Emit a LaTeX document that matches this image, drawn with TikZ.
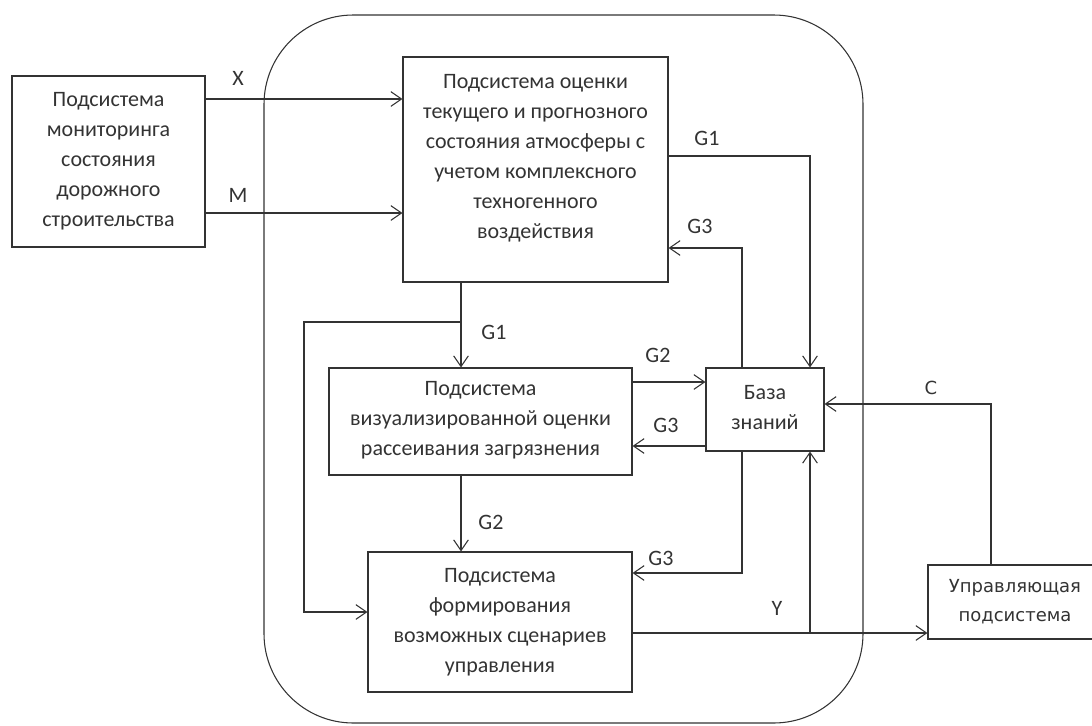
\documentclass[tikz,border=0pt]{standalone}
\usepackage{fontspec}
\setmainfont{Carlito}
\newfontfamily\ctrlfont{DejaVu Sans}
\usetikzlibrary{arrows.meta,calc}
\definecolor{ink}{HTML}{333333}
\tikzset{
  box/.style={draw=ink, line width=0.8pt, inner sep=0pt},
  txt/.style={align=center, inner sep=0pt, text=ink, font=\fontsize{16.5}{22.5}\selectfont},
  ctxt/.style={align=center, inner sep=0pt, text=ink, font=\ctrlfont\fontsize{13.5}{22}\selectfont},
  lbl/.style={inner sep=0pt, text=ink, font=\fontsize{16.5}{18}\selectfont},
  clbl/.style={inner sep=0pt, text=ink, font=\ctrlfont\fontsize{13.5}{16}\selectfont},
  line/.style={draw=ink, line width=0.8pt},
  arr/.style={line, -{Straight Barb[length=8pt,width=11pt,line width=0.8pt]}}
}
\begin{document}
\begin{tikzpicture}[x=0.75pt,y=-0.75pt]
\useasboundingbox (0,0) rectangle (1092,725);
\clip (0,0) rectangle (1092,725);
% outer rounded boundary
\draw[line, rounded corners=67pt] (264,15) rectangle (863,723);
% boxes
\node[box, minimum width=193*0.75pt, minimum height=171*0.75pt] (mon) at (108.5,161.5) {};
\node[txt] (montxt) at (108.5,161.5) {Подсистема\\мониторинга\\состояния\\дорожного\\строительства};
\node[box, minimum width=265*0.75pt, minimum height=225*0.75pt] (top) at (535.5,169.5) {};
\node[txt] (toptxt) at (535.5,158) {Подсистема оценки\\текущего и прогнозного\\состояния атмосферы с\\учетом комплексного\\техногенного\\воздействия};
\node[box, minimum width=303*0.75pt, minimum height=107*0.75pt] (vis) at (480.5,421.5) {};
\node[txt] (vistxt) at (480.5,420) {Подсистема\\визуализированной оценки\\рассеивания загрязнения};
\node[box, minimum width=118*0.75pt, minimum height=83*0.75pt] (kb) at (765,409.5) {};
\node[txt] (kbtxt) at (765,408) {База\\знаний};
\node[box, minimum width=264*0.75pt, minimum height=140*0.75pt] (scen) at (500,622) {};
\node[txt] (scentxt) at (500,622) {Подсистема\\формирования\\возможных сценариев\\управления};
\node[box, minimum width=170*0.75pt, minimum height=74*0.75pt] (ctrl) at (1013,602) {};
\node[ctxt] (ctrltxt) at (1015,602) {Управляющая\\подсистема};
% connectors
\draw[arr] (mon.east |- 0,99) -- (top.west |- 0,99);
\draw[arr] (mon.east |- 0,213) -- (top.west |- 0,213);
\draw[arr] (top.east |- 0,156) -| (kb.north -| 810,0);
\draw[arr] (kb.north -| 742,0) |- (top.east |- 0,248);
\draw[arr] (top.south -| 461,0) -- (vis.north -| 461,0);
\coordinate (br) at (461,322);
\draw[arr] (br) -- (304,322) |- (scen.west |- 0,612);
\draw[arr] (vis.east |- 0,382) -- (kb.west |- 0,382);
\draw[arr] (kb.west |- 0,446) -- (vis.east |- 0,446);
\draw[arr] (vis.south -| 461,0) -- (scen.north -| 461,0);
\draw[arr] (kb.south -| 742,0) |- (scen.east |- 0,573);
\draw[arr] (scen.east |- 0,633) -- (ctrl.west |- 0,633);
\coordinate (yb) at (810,633);
\draw[arr] (yb) -- (kb.south -| 810,0);
\draw[arr] (ctrl.north -| 991,0) |- (kb.east |- 0,404);
% labels
\node[lbl] (lx) at (238,78) {X};
\node[lbl] (lm) at (238,195) {M};
\node[lbl] (lg1a) at (707,138) {G1};
\node[lbl] (lg3a) at (700,226) {G3};
\node[lbl] (lg1b) at (494,332) {G1};
\node[lbl] (lg2a) at (658,355) {G2};
\node[lbl] (lg3b) at (666,425) {G3};
\node[lbl] (lg2b) at (491,522) {G2};
\node[lbl] (lg3c) at (661,558) {G3};
\node[lbl] (ly) at (777,608) {Y};
\node[clbl] (lc) at (931,388) {C};
\end{tikzpicture}
\end{document}
